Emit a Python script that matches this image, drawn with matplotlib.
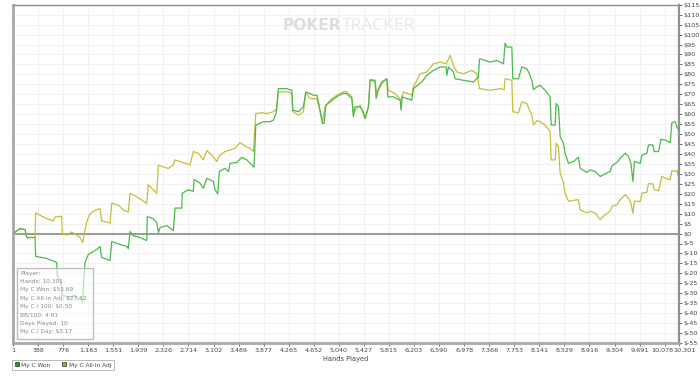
import matplotlib
matplotlib.use("Agg")
import matplotlib.pyplot as plt
from matplotlib.lines import Line2D
from matplotlib.patches import Rectangle

# ---------------- data ----------------
won_hands = [1, 109, 187, 213, 341, 352, 522, 677, 686, 744, 759, 883, 960, 1007, 1053, 1076,
             1115, 1166, 1296, 1347, 1373, 1502, 1528, 1656, 1760, 1785, 1811, 1857, 1965, 2069,
             2079, 2167, 2224, 2249, 2275, 2379, 2481, 2507, 2611, 2620, 2713, 2790, 2801, 2894,
             2945, 2998, 3100, 3126, 3168, 3192, 3281, 3332, 3358, 3462, 3539, 3616, 3694, 3729,
             3756, 3873, 3977, 4028, 4070, 4105, 4235, 4313, 4328, 4415, 4492, 4529, 4647, 4699,
             4735, 4786, 4812, 4838, 4905, 5009, 5111, 5163, 5241, 5265, 5292, 5369, 5420, 5446,
             5498, 5524, 5601, 5617, 5652, 5705, 5782, 5798, 5884, 5988, 6003, 6019, 6169, 6194,
             6324, 6401, 6503, 6607, 6700, 6710, 6735, 6813, 6839, 6967, 7122, 7199, 7215, 7380,
             7484, 7586, 7612, 7638, 7716, 7731, 7818, 7870, 7948, 7988, 8025, 8050, 8102, 8154,
             8231, 8308, 8324, 8386, 8401, 8437, 8463, 8514, 8540, 8592, 8669, 8746, 8772, 8876,
             8927, 9005, 9082, 9159, 9237, 9263, 9340, 9392, 9469, 9520, 9557, 9588, 9613, 9701,
             9727, 9804, 9829, 9897, 9917, 9984, 10021, 10088, 10165, 10191, 10242, 10268, 10301]
won_values = [0, 2.5, 2, -2, -2, -11.5, -12.5, -14.5, -21, -25, -31, -32, -31, -33, -32, -34.5,
              -14.5, -10.5, -8, -6.5, -12, -13.5, -4, -5.5, -6.5, -7.5, 1, -1, -2, -3.5,
              8.5, 7.5, 5.5, 0.5, 3, 4, 1.5, 12.8, 12.8, 20.3, 22, 21.2, 27.3, 25.3,
              22.8, 27.8, 26.2, 22, 20, 31.2, 32.8, 31.2, 35.3, 35.7, 38.3, 37, 34.5, 33.3,
              54.5, 56.2, 56.2, 57, 60.3, 72.8, 72.8, 72, 62, 61.2, 63.7, 71.2, 69.5, 69.5,
              64.5, 55.3, 55.3, 64.5, 66.2, 68.8, 70.5, 70.3, 67.8, 58.7, 63.7, 63.7, 61.2, 57.8,
              63.7, 77.3, 77, 67.8, 72.8, 76.2, 77.8, 68.7, 68.7, 67, 62, 68.7, 67, 72.8,
              76.2, 79.5, 82, 83.7, 83.7, 79.5, 83.7, 81.2, 77.8, 77, 76.2, 78.7, 87.8, 86.2,
              87, 85.3, 95.7, 93.7, 93.7, 77.8, 77.8, 83.7, 82.8, 80.3, 77, 72.3, 73.7, 74.5,
              72, 68.7, 54.5, 54.5, 65.3, 63.7, 48.7, 45.3, 40.3, 35.3, 36.2, 38.3, 32.8, 30.7,
              32, 31.2, 28.7, 30, 31.2, 34, 35.7, 37.8, 40.3, 38.7, 35.3, 26.2, 36.2, 35.3,
              39.5, 40.3, 44.5, 44.5, 41.2, 41.2, 47.3, 47, 45.7, 55.7, 56.2, 53.7, 51.69]

adj_hands = [1, 109, 187, 213, 341, 352, 419, 522, 624, 651, 754, 764, 832, 909, 986, 1037, 1079,
             1099, 1141, 1192, 1270, 1347, 1373, 1502, 1528, 1630, 1707, 1785, 1811, 1915, 1992,
             2069, 2094, 2171, 2224, 2249, 2326, 2403, 2481, 2507, 2584, 2662, 2739, 2790, 2868,
             2945, 2998, 3075, 3152, 3203, 3281, 3358, 3435, 3513, 3590, 3667, 3718, 3756, 3848,
             3926, 4028, 4080, 4105, 4260, 4313, 4328, 4415, 4492, 4529, 4596, 4699, 4735, 4786,
             4828, 4905, 5009, 5111, 5163, 5241, 5265, 5369, 5446, 5498, 5524, 5601, 5627, 5705,
             5782, 5807, 5911, 6003, 6039, 6169, 6194, 6297, 6401, 6503, 6607, 6700, 6762, 6813,
             6865, 6967, 7097, 7174, 7215, 7380, 7535, 7597, 7612, 7716, 7731, 7818, 7870, 7948,
             7988, 8025, 8050, 8102, 8154, 8231, 8308, 8324, 8386, 8401, 8437, 8463, 8514, 8540,
             8592, 8669, 8746, 8772, 8876, 8927, 9005, 9082, 9159, 9237, 9263, 9340, 9392, 9469,
             9520, 9557, 9588, 9613, 9701, 9727, 9804, 9829, 9897, 9917, 9984, 10036, 10088,
             10165, 10191, 10242, 10268, 10301]
adj_values = [0, 2.5, 2, -2, -2, 10.4, 9.2, 7.5, 6.3, 8.3, 8.7, 0, -0.8, 0.8, -0.8, -2, -4.5,
              -0.8, 5.8, 10, 11.7, 12.5, 6.3, 5.3, 15.2, 14.3, 11.8, 10.8, 20.2, 18.5, 16.8,
              15.2, 24.5, 22, 20.2, 34.3, 33.5, 32.7, 34.5, 37, 36.2, 35.3, 34.5, 41.2, 40.3,
              37, 41.7, 39.5, 36.2, 39.5, 41.2, 42, 42.8, 45.7, 44, 42.8, 41.2, 60.3, 60.7,
              60.3, 61.2, 62.8, 71.2, 71.2, 70.3, 61.2, 59.5, 61.2, 70.7, 67.8, 67.8, 63.7, 56.2,
              63.7, 67, 69.5, 71.2, 71.2, 68.7, 61.2, 64.5, 57.8, 63.7, 77, 76.2, 70.3, 75.3,
              77.8, 72, 70.3, 67, 71.2, 69.5, 73.7, 80.3, 81.2, 85.3, 86.2, 85.3, 89.5, 84.5,
              81.2, 80.3, 82, 80.3, 72.8, 72, 72.8, 72.3, 77.8, 77, 61.2, 60.7, 66.2, 65.3,
              62, 59.5, 54.5, 56.7, 56.2, 54.5, 51.2, 37, 37, 45.3, 43.7, 30.3, 25.3, 20.3,
              16.2, 16.7, 17, 12, 10.3, 11.2, 10.3, 7, 9.5, 11.2, 13.7, 14.5, 17, 19.5,
              17.8, 15.3, 10.3, 16.2, 16.2, 20.3, 20.8, 25, 25, 22, 21.5, 28.7, 27.8,
              27, 31.7, 31.2, 31.7, 27.12]

x_ticks = [1, 388, 776, 1163, 1551, 1939, 2326, 2714, 3102, 3489, 3877, 4265, 4652, 5040, 5427,
           5815, 6203, 6590, 6978, 7366, 7753, 8141, 8529, 8916, 9304, 9691, 10078, 10301]
y_ticks = list(range(-55, 116, 5))

series_names = ["My C Won", "My C All-In Adj"]
info_lines = ["Player:", "Hands: 10,301", "My C Won: $51.69", "My C All-In Adj: $27.12",
              "My C / 100: $0.50", "BB/100: 4.91", "Days Played: 10", "My C / Day: $5.17"]

# ---------------- figure ----------------
W, H = 700, 380
fig = plt.figure(figsize=(W / 100, H / 100), dpi=100)
fig.patch.set_facecolor("white")
ax = fig.add_axes([13 / W, 1 - 343 / H, (679 - 13) / W, (343 - 4.7) / H])

green = "#4cb84c"
olive = "#c4bf3a"

for v in y_ticks:
    ax.axhline(v, color="#f1f1f1", lw=0.8, zorder=0)
for v in x_ticks:
    ax.axvline(v, color="#f1f1f1", lw=0.8, zorder=0)

ax.axhline(0, color="#8a8a8a", lw=1.2, zorder=1)

ax.plot(adj_hands, adj_values, color=olive, lw=0.9, zorder=2)
ax.plot(won_hands, won_values, color=green, lw=0.9, zorder=3)

ax.set_xlim(1, 10301)
ax.set_ylim(-55, 115)

ax.yaxis.tick_right()
ax.set_yticks(y_ticks)
ax.set_yticklabels([f"${v}" for v in y_ticks])
ax.set_xticks(x_ticks)
xlabels = ax.set_xticklabels([f"{v:,}" for v in x_ticks])
xlabels[-2].set_horizontalalignment("right")
xlabels[-2].set_x(10078)
xlabels[-1].set_horizontalalignment("left")
ax.tick_params(axis="both", labelsize=4.6, colors="#555555", length=2, width=0.6, pad=1.5)
ax.tick_params(axis="y", labelcolor="#444444")
ax.tick_params(axis="x", labelcolor="#444444")
# nudge the last two labels so they sit side by side as in the reference
import matplotlib.transforms as mtransforms
off_l = mtransforms.ScaledTranslation(9 / 100, 0, fig.dpi_scale_trans)
off_r = mtransforms.ScaledTranslation(-6 / 100, 0, fig.dpi_scale_trans)
xlabels[-2].set_transform(xlabels[-2].get_transform() + off_l)
xlabels[-1].set_transform(xlabels[-1].get_transform() + off_r)

for side, lw, col in [("left", 2.0, "#a8a8a8"), ("bottom", 2.0, "#a8a8a8"),
                      ("right", 1.6, "#909090"), ("top", 1.0, "#8c8c8c")]:
    ax.spines[side].set_linewidth(lw)
    ax.spines[side].set_color(col)

ax.set_xlabel("Hands Played", fontsize=4.8, color="#444444", labelpad=2)

# watermark
fig.text(283 / W, 1 - 25.5 / H, "POKER", fontsize=11.2, fontweight="bold", color="#dddddd",
         va="center", ha="left", family="DejaVu Sans")
fig.text(342 / W, 1 - 25.5 / H, "TRACKER", fontsize=12.5, color="#e9e9e9",
         va="center", ha="left", family="Open Sans")

# info box
bx0, by0, bx1, by1 = 17, 268, 93, 339
fig.patches.append(Rectangle((bx0 / W, 1 - by1 / H), (bx1 - bx0) / W, (by1 - by0) / H,
                             transform=fig.transFigure, facecolor="white", alpha=0.6,
                             edgecolor="none", zorder=5))
fig.patches.append(Rectangle((bx0 / W, 1 - by1 / H), (bx1 - bx0) / W, (by1 - by0) / H,
                             transform=fig.transFigure, facecolor="none",
                             edgecolor="#bdbdbd", lw=1.0, zorder=6))
for i, t in enumerate(info_lines):
    fig.text(20 / W, 1 - (273.3 + i * 8.35) / H, t, fontsize=4.2, color="#8a8a8a",
             va="center", ha="left", zorder=7)

# legend
handles = [Line2D([], [], ls="none", marker="s", markersize=3.2, markerfacecolor="#1f9a1f",
                  markeredgecolor="#333333", markeredgewidth=0.5),
           Line2D([], [], ls="none", marker="s", markersize=3.2, markerfacecolor="#b5a800",
                  markeredgecolor="#333333", markeredgewidth=0.5)]
leg = fig.legend(handles, series_names, loc="upper left", bbox_to_anchor=(12 / W, 1 - 359.5 / H),
                 ncol=2, fontsize=4.2, frameon=True, fancybox=False, handlelength=0.6,
                 handletextpad=0.4, columnspacing=2.2, borderpad=0.5, borderaxespad=0)
leg.get_frame().set_edgecolor("#9a9a9a")
leg.get_frame().set_linewidth(0.6)
for t in leg.get_texts():
    t.set_color("#444444")

fig.savefig("out.png", dpi=100)
